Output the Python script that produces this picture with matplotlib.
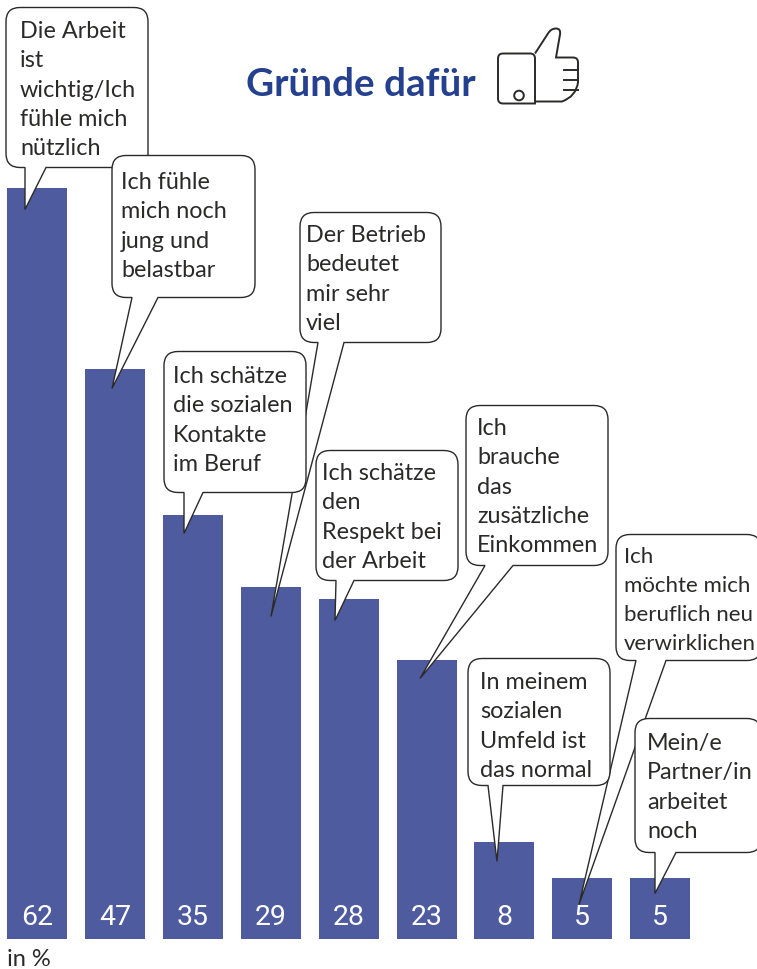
import matplotlib
matplotlib.use("Agg")
import matplotlib.pyplot as plt
from matplotlib.path import Path
from matplotlib.patches import PathPatch, Circle

values = [62, 47, 35, 29, 28, 23, 8, 5, 5]
value_labels = ["62", "47", "35", "29", "28", "23", "8", "5", "5"]
answers = [
    "Die Arbeit\nist\nwichtig/Ich\nfühle mich\nnützlich",
    "Ich fühle\nmich noch\njung und\nbelastbar",
    "Ich schätze\ndie sozialen\nKontakte\nim Beruf",
    "Der Betrieb\nbedeutet\nmir sehr\nviel",
    "Ich schätze\nden\nRespekt bei\nder Arbeit",
    "Ich\nbrauche\ndas\nzusätzliche\nEinkommen",
    "In meinem\nsozialen\nUmfeld ist\ndas normal",
    "Ich\nmöchte mich\nberuflich neu\nverwirklichen",
    "Mein/e\nPartner/in\narbeitet\nnoch",
]
title = "Gründe dafür"
unit = "in %"

BAR_COLOR = "#4e5b9e"
TITLE_COLOR = "#25408f"
INK = "#2b2a29"
FONT = "Lato"

# box left, top, right, bottom, pointer base left, base right, tip x, tip y (pixels)
boxes = {
    0: (6, 8, 148, 168, 25, 46, 25, 210),
    1: (112, 156, 255, 298, 132, 158, 112, 389),
    2: (164, 352, 306, 493, 184, 203, 184, 534),
    3: (300, 213, 441, 343, 318, 344, 271, 617),
    4: (316, 451, 458, 581, 336, 354, 335, 621),
    5: (466, 406, 608, 566, 485, 513, 420, 679),
    6: (468, 659, 610, 786, 488, 503, 497, 862),
    7: (616, 535, 761, 661, 636, 666, 579, 905),
    8: (635, 719, 761, 853, 655, 676, 655, 894),
}
# text left and centre of the first line
text_pos = {
    0: (20, 30), 1: (121, 181), 2: (173, 375), 3: (306, 234), 4: (322, 472),
    5: (477, 427), 6: (480, 681), 7: (624, 556), 8: (647, 742),
}
draw_order = [0, 1, 3, 2, 4, 5, 7, 6, 8]


def bubble(ax, box, z):
    l, t, r, b, b0, b1, tx, ty = box
    c = 14
    verts = [
        (l + c, t), (r - c, t), (r, t), (r, t + c),
        (r, b - c), (r, b), (r - c, b),
        (b1, b), (tx, ty), (b0, b),
        (l + c, b), (l, b), (l, b - c),
        (l, t + c), (l, t), (l + c, t),
        (l + c, t),
    ]
    codes = [Path.MOVETO, Path.LINETO, Path.CURVE3, Path.CURVE3,
             Path.LINETO, Path.CURVE3, Path.CURVE3,
             Path.LINETO, Path.LINETO, Path.LINETO,
             Path.LINETO, Path.CURVE3, Path.CURVE3,
             Path.LINETO, Path.CURVE3, Path.CURVE3,
             Path.CLOSEPOLY]
    ax.add_patch(PathPatch(Path(verts, codes), fc="white", ec=INK, lw=1.0,
                           joinstyle="miter", zorder=z))


def thumb(ax):
    cuff = [(503, 54), (530, 54), (535, 54), (535, 59), (535, 104), (503, 104),
            (498, 104), (498, 99), (498, 59), (498, 54), (503, 54)]
    codes = [Path.MOVETO, Path.LINETO, Path.CURVE3, Path.CURVE3, Path.LINETO,
             Path.LINETO, Path.CURVE3, Path.CURVE3, Path.LINETO, Path.CURVE3, Path.CURVE3]
    ax.add_patch(PathPatch(Path(cuff, codes), fc="none", ec=INK, lw=1.4))
    hand = [(535, 54), (548, 34), (551, 29), (556, 29), (561, 29), (560, 35),
            (556, 58), (573, 58), (578, 58), (578, 63), (578, 83), (576, 97), (562, 102),
            (535, 102)]
    codes = [Path.MOVETO, Path.LINETO, Path.CURVE3, Path.CURVE3, Path.CURVE3,
             Path.CURVE3, Path.LINETO, Path.LINETO, Path.CURVE3, Path.CURVE3,
             Path.LINETO, Path.CURVE3, Path.CURVE3, Path.LINETO]
    ax.add_patch(PathPatch(Path(hand, codes), fc="none", ec=INK, lw=1.4))
    for y in (70, 80, 90):
        ax.plot([564, 578], [y, y], color=INK, lw=1.4)
    ax.add_patch(Circle((519, 96), 4.8, fc="none", ec=INK, lw=1.4))


fig = plt.figure(figsize=(7.57, 9.70), dpi=100)

# bars: one unit is 12.11 px, categories 77.9 px apart
ax = fig.add_axes([0, 0, 1, 1])
ax.bar(range(len(values)), values, width=60 / 77.9, color=BAR_COLOR, zorder=1)
ax.set_xlim(-37 / 77.9, (757 - 37) / 77.9)
ax.set_ylim(-30.5 / 12.11, 939.5 / 12.11)
ax.axis("off")
for i, lab in enumerate(value_labels):
    ax.text(i, 1.82, lab, color="white", fontsize=20.5,
            family="Roboto", ha="center", va="center")

# overlay in pixel coordinates for the speech bubbles
over = fig.add_axes([0, 0, 1, 1], facecolor="none")
over.set_xlim(0, 757)
over.set_ylim(969.5, -0.5)
over.axis("off")

for z, i in enumerate(draw_order):
    bubble(over, boxes[i], 2 + 2 * z)
    x, y = text_pos[i]
    # the "verwirklichen" box runs up to the edge of the picture
    size = 16 if i == 7 else 16.8
    over.text(x, y - 9.5, answers[i], color=INK, fontsize=size, family=FONT,
              va="top", ha="left", linespacing=1.49 * 16.8 / size, zorder=3 + 2 * z)

over.text(246, 84, title, color=TITLE_COLOR, fontsize=27.8, fontweight="bold",
          family=FONT, va="center", ha="left")
thumb(over)
over.text(7, 959, unit, color=INK, fontsize=17, family=FONT, va="center", ha="left")

fig.savefig("out.png", dpi=100)
